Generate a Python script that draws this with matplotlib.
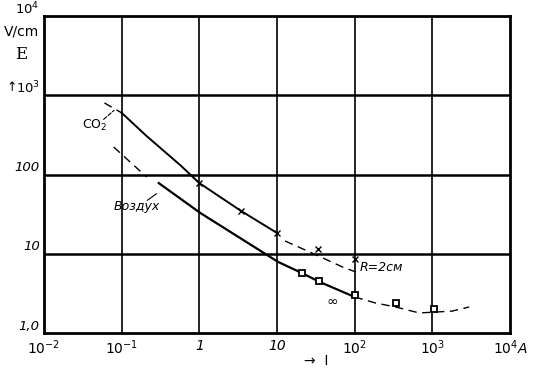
import matplotlib.pyplot as plt
from matplotlib.transforms import ScaledTranslation

# --- data (log-log) ---
co2_lead_x = [0.06, 0.1]
co2_lead_y = [800, 600]
co2_x = [0.1, 0.21, 0.57, 1, 3.4, 10]
co2_y = [600, 305, 131, 78, 35, 18.3]
co2_r2_x = [12.7, 26.5, 70, 103]
co2_r2_y = [14.5, 10.5, 6.8, 5.9]

air_lead_x = [0.079, 0.21]
air_lead_y = [222, 93]
air_x = [0.3, 1.03, 3.35, 10.3, 21, 35.6, 100]
air_y = [78, 32.7, 15.8, 7.9, 5.7, 4.4, 2.85]
air_tail_x = [100, 186, 336, 681, 1800, 2980]
air_tail_y = [2.85, 2.39, 2.13, 1.79, 1.89, 2.13]

cross_x = [1, 3.45, 10, 33.5, 100]
cross_y = [78, 34.6, 18.3, 11.5, 8.7]
square_x = [21, 34.5, 100, 336, 1060]
square_y = [5.8, 4.5, 3.0, 2.39, 2.0]

xticks = [1e-2, 1e-1, 1, 10, 1e2, 1e3, 1e4]
xlabels = [r'$10^{-2}$', r'$10^{-1}$', '1', '10', r'$10^{2}$', r'$10^{3}$', r'$10^{4}$A']
yticks = [1, 10, 100, 1e3, 1e4]
ylabels = ['1,0', '10', '100', r'$10^{3}$', r'$10^{4}$']

plt.rcParams['mathtext.default'] = 'it'

fig = plt.figure(figsize=(5.41, 3.74), dpi=100)
ax = fig.add_axes([0.0813, 0.1096, 0.8614, 0.8476])
ax.set_xscale('log')
ax.set_yscale('log')
ax.set_xlim(1e-2, 1e4)
ax.set_ylim(1, 1e4)

for t in xticks[1:-1]:
    ax.axvline(t, color='black', lw=1.2)
for t in yticks[1:-1]:
    ax.axhline(t, color='black', lw=1.8)
for s in ax.spines.values():
    s.set_linewidth(2)

dash = (0, (6, 4))
ax.plot(co2_lead_x, co2_lead_y, color='black', lw=1, ls=dash)
ax.plot(co2_x, co2_y, color='black', lw=1.4)
ax.plot(co2_r2_x, co2_r2_y, color='black', lw=1, ls=dash)
ax.plot(air_lead_x, air_lead_y, color='black', lw=1, ls=dash)
ax.plot(air_x, air_y, color='black', lw=1.6)
ax.plot(air_tail_x, air_tail_y, color='black', lw=1, ls=dash)

ax.plot(cross_x, cross_y, 'x', color='black', ms=4, mew=1)
ax.plot(square_x, square_y, 's', mfc='white', mec='black', ms=5, mew=1.3)

ax.set_xticks(xticks)
ax.set_xticklabels(xlabels, fontstyle='italic', fontsize=10)
ax.set_yticks(yticks)
ax.set_yticklabels(ylabels, fontstyle='italic', fontsize=9.5)
ax.minorticks_off()
ax.tick_params(length=0)
ax.tick_params(axis='y', pad=3)
ax.tick_params(axis='x', pad=4)
up = ScaledTranslation(0, 5 / 72, fig.dpi_scale_trans)
for lab in ax.get_yticklabels():
    lab.set_verticalalignment('center')
    lab.set_transform(lab.get_transform() + up)

ax.text(0.045, 410, r'$\mathrm{CO_2}$', fontsize=9, ha='center', va='center')
ax.annotate('', xy=(0.085, 680), xytext=(0.055, 470),
            arrowprops=dict(arrowstyle='-', ls='--', lw=0.8))
ax.text(0.079, 39, 'Воздух', fontsize=9, style='italic', ha='left', va='center')
ax.annotate('', xy=(0.3, 60), xytext=(0.2, 45),
            arrowprops=dict(arrowstyle='-', lw=0.8))
ax.text(115, 6.8, 'R=2см', fontsize=9, style='italic', ha='left', va='center')
ax.text(52, 2.46, '∞', fontsize=10, ha='center', va='center')

fig.text(0.04, 0.915, 'V/cm', fontsize=10, ha='center', va='center')
fig.text(0.04, 0.855, 'E', fontsize=12, family='DejaVu Serif', ha='center', va='center')
fig.text(0.022, 0.765, '↑', fontsize=9, ha='center', va='center')
fig.text(0.585, 0.035, '→  I', fontsize=10, ha='center', va='center')

fig.savefig('out.png', dpi=100)
